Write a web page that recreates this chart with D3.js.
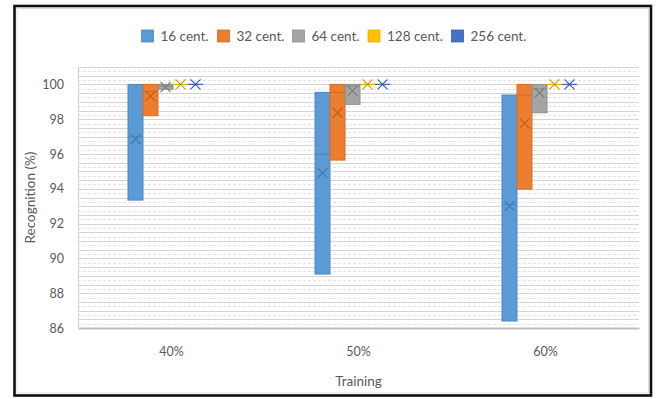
<!DOCTYPE html>
<html>
<head>
<meta charset="utf-8">
<script src="https://cdn.jsdelivr.net/npm/d3@7"></script>
<style>
  html, body { margin: 0; padding: 0; background: #fff; }
  svg { display: block; font-family: Lato, "Open Sans", sans-serif; }
</style>
</head>
<body>
<svg id="chart" width="659" height="399"></svg>
<script>
// Training split categories and series
const categories = ["40%", "50%", "60%"];
const seriesNames = ["16 cent.", "32 cent.", "64 cent.", "128 cent.", "256 cent."];

// Box lower / upper edges, median and mean recognition (%) per series, per category
const boxLow = [
  [93.35, 89.1, 86.4],
  [98.2, 95.65, 93.98],
  [99.72, 98.85, 98.37],
  [100, 100, 100],
  [100, 100, 100]
];
const boxHigh = [
  [100, 99.54, 99.39],
  [100, 100, 100],
  [100, 100, 100],
  [100, 100, 100],
  [100, 100, 100]
];
const medians = [
  [97.0, 95.98, 93.1],
  [99.6, 99.54, 99.39],
  [99.9, 99.9, 99.75],
  [100, 100, 100],
  [100, 100, 100]
];
const means = [
  [96.86, 94.9, 93.0],
  [99.33, 98.37, 97.76],
  [99.85, 99.63, 99.52],
  [100, 100, 100],
  [100, 100, 100]
];

const yTicks = [86, 88, 90, 92, 94, 96, 98, 100];
const yDomain = [86, 101];

const fills   = ["#5B9BD5", "#ED7D31", "#A5A5A5", "#FFC000", "#4472C4"];
const strokes = ["#4A8AC4", "#D96C22", "#8F8F8F", "#E6AD00", "#3A63B0"];

const svg = d3.select("#chart");
const plot = { left: 78, right: 639, top: 67, bottom: 328 };

// outer frame
svg.append("rect")
  .attr("x", 14.5).attr("y", 6).attr("width", 636.5).attr("height", 389.5)
  .attr("fill", "#fff").attr("stroke", "#111").attr("stroke-width", 2.6);
svg.append("rect")
  .attr("x", 17).attr("y", 8.5).attr("width", 631.5).attr("height", 384.5)
  .attr("fill", "none").attr("stroke", "#d9d9d9").attr("stroke-width", 0.8);

const y = d3.scaleLinear().domain(yDomain).range([plot.bottom, plot.top]);
const x0 = d3.scaleBand().domain(categories).range([plot.left, plot.right]).padding(0);
const x1 = d3.scaleBand().domain(seriesNames).range([-43.5, 31.5]).padding(0);

// gridlines every quarter unit
const gridVals = d3.range(yDomain[0] * 4, yDomain[1] * 4 + 1).map(v => v / 4);
svg.append("g")
  .selectAll("line")
  .data(gridVals.filter(v => v > yDomain[0]))
  .join("line")
  .attr("x1", plot.left).attr("x2", plot.right)
  .attr("y1", d => Math.round(y(d)) + 0.5).attr("y2", d => Math.round(y(d)) + 0.5)
  .attr("stroke", d => (d * 2) % 1 === 0 ? "#d4d4d4" : "#e2e2e2")
  .attr("stroke-width", 1)
  .attr("stroke-dasharray", d => (d * 2) % 1 === 0 ? null : "3,2");

// left edge of plot
svg.append("line")
  .attr("x1", plot.left + 0.5).attr("x2", plot.left + 0.5)
  .attr("y1", y(yDomain[1])).attr("y2", plot.bottom)
  .attr("stroke", "#d0d0d0");

// y axis labels
const yAxis = d3.axisLeft(y).tickValues(yTicks).tickSize(0).tickPadding(14);
const gy = svg.append("g").attr("transform", `translate(${plot.left},0)`).call(yAxis);
gy.select(".domain").remove();
gy.selectAll("text").attr("fill", "#595959").style("font-size", "12.5px").style("font-family", "Lato, sans-serif");

// x axis
const xAxis = d3.axisBottom(x0).tickSize(0).tickPadding(19);
const gx = svg.append("g").attr("transform", `translate(0,${plot.bottom})`).call(xAxis);
gx.select(".domain").attr("stroke", "#bfbfbf").attr("stroke-width", 2);
gx.selectAll("text").attr("fill", "#595959").style("font-size", "12.5px").style("font-family", "Lato, sans-serif");

// axis titles
svg.append("text")
  .attr("x", (plot.left + plot.right) / 2).attr("y", 386)
  .attr("text-anchor", "middle").attr("fill", "#595959")
  .style("font-size", "13.5px").text("Training");
svg.append("text")
  .attr("transform", `translate(35,${(plot.top + plot.bottom) / 2}) rotate(-90)`)
  .attr("text-anchor", "middle").attr("fill", "#595959")
  .style("font-size", "13.5px").text("Recognition (%)");

// boxes
const boxes = [];
seriesNames.forEach((s, si) => {
  categories.forEach((c, ci) => {
    boxes.push({
      s, si, c,
      low: boxLow[si][ci], high: boxHigh[si][ci],
      median: medians[si][ci], mean: means[si][ci]
    });
  });
});
const cx = d => x0(d.c) + x0.bandwidth() / 2 + x1(d.s);
const bw = x1.bandwidth();

const gBox = svg.append("g");
gBox.selectAll("rect")
  .data(boxes)
  .join("rect")
  .attr("x", d => cx(d))
  .attr("width", bw)
  .attr("y", d => y(d.high))
  .attr("height", d => Math.max(0, y(d.low) - y(d.high)))
  .attr("fill", d => fills[d.si])
  .attr("stroke", d => strokes[d.si])
  .attr("stroke-width", 1);

// median lines
gBox.selectAll("line.median")
  .data(boxes)
  .join("line")
  .attr("class", "median")
  .attr("x1", d => cx(d)).attr("x2", d => cx(d) + bw)
  .attr("y1", d => y(d.median)).attr("y2", d => y(d.median))
  .attr("stroke", d => strokes[d.si])
  .attr("stroke-width", 1.2);

// mean markers (x)
const r = 5;
gBox.selectAll("path.mean")
  .data(boxes)
  .join("path")
  .attr("class", "mean")
  .attr("d", d => {
    const mx = cx(d) + bw / 2, my = y(d.mean);
    return `M${mx - r},${my - r}L${mx + r},${my + r}M${mx - r},${my + r}L${mx + r},${my - r}`;
  })
  .attr("fill", "none")
  .attr("stroke", d => d3.color(strokes[d.si]).darker(0.4))
  .attr("stroke-width", 1.1);

// legend
const legendX = [141.5, 217.5, 292.5, 368, 451.5];
const legend = svg.append("g");
seriesNames.forEach((s, i) => {
  const g = legend.append("g").attr("transform", `translate(${legendX[i]},30)`);
  g.append("rect").attr("width", 12).attr("height", 12)
    .attr("fill", fills[i]).attr("stroke", strokes[i]).attr("stroke-width", 0.8);
  g.append("text").attr("x", 19).attr("y", 10.5)
    .attr("fill", "#595959").style("font-size", "13.5px").text(s);
});
</script>
</body>
</html>
